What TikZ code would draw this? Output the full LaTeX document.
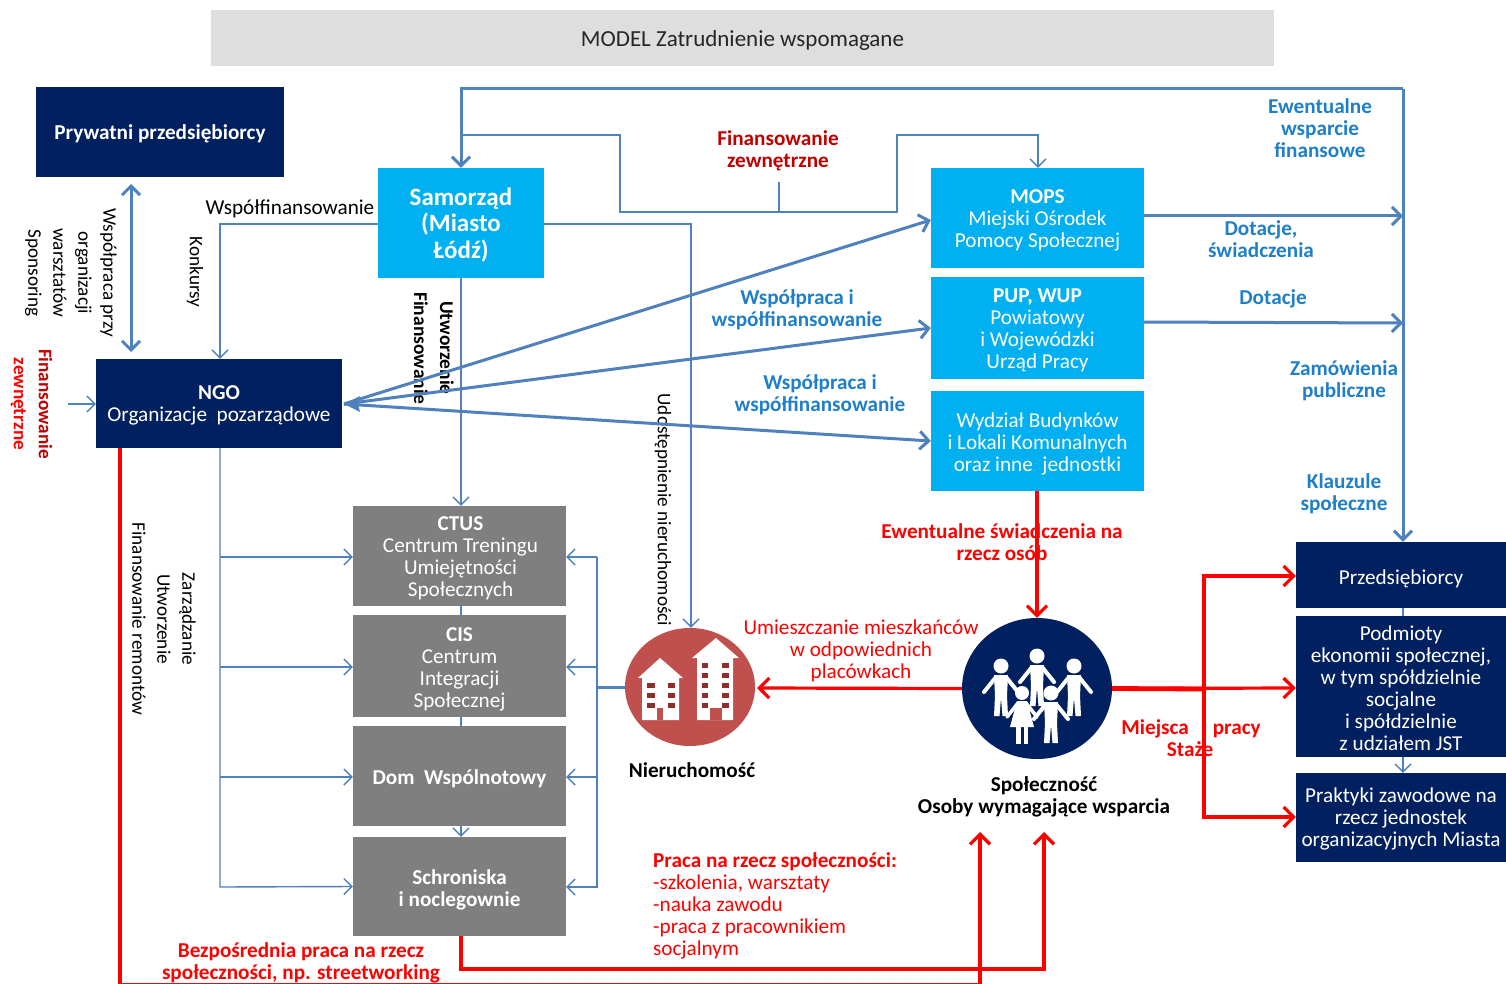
\documentclass[tikz,border=0pt]{standalone}
\usepackage{fontspec}
\setmainfont{Carlito}
\usetikzlibrary{arrows.meta,calc,shapes.geometric}
\definecolor{navy}{HTML}{002060}
\definecolor{cyanbox}{HTML}{00B0F0}
\definecolor{greybox}{HTML}{7F7F7F}
\definecolor{linkblue}{HTML}{4F81BD}
\definecolor{labblue}{HTML}{1F7FC8}
\definecolor{darkred}{HTML}{C00000}
\definecolor{brick}{HTML}{C0504D}
\definecolor{brickdk}{HTML}{8E2F2C}
\newcommand{\reg}{\fontsize{21.2}{22}\selectfont}
\newcommand{\bld}{\fontsize{21.2}{22}\selectfont\bfseries}
\newcommand{\rot}{\fontsize{19.2}{25}\selectfont}
\tikzset{
  box/.style={rectangle,inner sep=0pt},
  navybox/.style={box,fill=navy},
  cyanb/.style={box,fill=cyanbox},
  greyb/.style={box,fill=greybox},
  boxtxt/.style={inner sep=0pt,align=center,text=white,font=\reg,yshift=-2pt},
  lab/.style={inner sep=0pt,align=center,font=\reg,yshift=-2pt},
  rlab/.style={inner sep=0pt,align=center,font=\rot,rotate=-90,text=black},
  bl/.style={lab,text=labblue,font=\bld},
  rd/.style={lab,text=red,font=\bld},
  thin link/.style={draw=linkblue,line width=1.4pt,-{Straight Barb[length=8pt,width=16pt,line width=1.4pt]}},
  thin line/.style={draw=linkblue,line width=1.4pt},
  thick link/.style={draw=linkblue,line width=3pt,-{Straight Barb[length=9pt,width=18pt,line width=3pt]}},
  thick line/.style={draw=linkblue,line width=3pt},
  red link/.style={draw=red,line width=3.2pt,-{Straight Barb[length=10pt,width=20pt,line width=3.2pt]}},
  red line/.style={draw=red,line width=4.8pt},
  person/.pic={
    \fill[white] (0,0) circle (7.5);
    \fill[white] (-7,9) -- (7,9) -- (6,30) -- (7,50) -- (1.5,50) -- (0,32) -- (-1.5,50) -- (-7,50) -- (-6,30) -- cycle;
    \draw[white,line width=4pt,line cap=round] (-5,11) -- (-17,26);
    \draw[white,line width=4pt,line cap=round] (5,11) -- (17,26);
  },
  girl/.pic={
    \fill[white] (0,0) circle (7);
    \fill[white] (-5,8) -- (5,8) -- (12,34) -- (-12,34) -- cycle;
    \fill[white] (-6,33) rectangle (-1.5,51);
    \fill[white] (1.5,33) rectangle (6,51);
    \draw[white,line width=3.5pt,line cap=round] (-4,10) -- (-15,24);
    \draw[white,line width=3.5pt,line cap=round] (4,10) -- (15,24);
  }
}
\newcommand{\mkbox}[8]{% box style,name,x1,y1,x2,y2,text style,text
  \node[#1,minimum width=#5pt-#3pt,minimum height=#6pt-#4pt] (#2) at ({(#3+#5)/2},{(#4+#6)/2}) {};
  \node[boxtxt,#7] (#2-t) at (#2.center) {#8};}
\begin{document}
\begin{tikzpicture}[x=1pt,y=-1pt]
\useasboundingbox (0,0) rectangle (1506,984);
\fill[white] (0,0) rectangle (1506,984);

% boxes
\mkbox{box,fill=black!13}{title}{211}{10}{1274}{66}{text=black!85,font=\fontsize{23}{24}\selectfont}{MODEL Zatrudnienie wspomagane}
\mkbox{navybox}{pryw}{36}{87}{284}{177}{font=\bld}{Prywatni przedsiębiorcy}
\mkbox{cyanb}{sam}{378}{168}{544}{278}{font=\fontsize{25}{26.5}\selectfont\bfseries}{Samorząd\\(Miasto\\Łódź)}
\mkbox{navybox}{ngo}{96}{359}{342}{448}{}{\textbf{NGO}\\Organizacje\ \ pozarządowe}
\mkbox{cyanb}{mops}{931}{168}{1144}{268}{}{\textbf{MOPS}\\Miejski Ośrodek\\Pomocy Społecznej}
\mkbox{cyanb}{pup}{931}{277}{1144}{379}{}{\textbf{PUP, WUP}\\Powiatowy\\i Wojewódzki\\Urząd Pracy}
\mkbox{cyanb}{wydz}{931}{391}{1144}{491}{yshift=-1pt}{Wydział Budynków\\i Lokali Komunalnych\\oraz inne\ \ jednostki}
\mkbox{greyb}{ctus}{353}{506}{566}{606}{xshift=1pt}{\textbf{CTUS}\\Centrum Treningu\\Umiejętności\\Społecznych}
\mkbox{greyb}{cis}{353}{615}{566}{717}{yshift=-1pt}{\textbf{CIS}\\Centrum\\Integracji\\Społecznej}
\mkbox{greyb}{dom}{353}{726}{566}{826}{font=\bld,yshift=-1pt}{Dom\ \ Wspólnotowy}
\mkbox{greyb}{schr}{353}{837}{566}{936}{font=\bld,yshift=-1pt}{Schroniska\\i noclegownie}
\mkbox{navybox}{przed}{1296}{542}{1506}{608}{yshift=-2pt}{Przedsiębiorcy}
\mkbox{navybox}{podm}{1296}{616}{1506}{757}{}{Podmioty\\ekonomii społecznej,\\w tym spółdzielnie\\socjalne\\i spółdzielnie\\z udziałem JST}
\mkbox{navybox}{prak}{1296}{773}{1506}{862}{yshift=1pt}{Praktyki zawodowe na\\rzecz jednostek\\organizacyjnych Miasta}

% circles
\node[ellipse,fill=brick,minimum width=130pt,minimum height=118pt,inner sep=0pt] (nier) at (690,687) {};
\node[ellipse,fill=navy,minimum width=150pt,minimum height=141pt,inner sep=0pt] (spol) at (1037,688.5) {};

% building icon
\fill[white] (638,678) -- (660,658) -- (683,678) -- (679,678) -- (679,720) -- (642,720) -- (642,678) -- cycle;
\fill[white] (692,658) -- (716,638) -- (739,658) -- (733,658) -- (733,720) -- (697,720) -- (697,658) -- cycle;
\foreach \wy in {683,693,703} {
  \fill[brickdk] (647,\wy) rectangle (655,\wy+5);
  \fill[brickdk] (668,\wy) rectangle (675,\wy+5);
}
\foreach \wy in {663,673,683,693,703} {
  \fill[brickdk] (702,\wy) rectangle (708,\wy+5);
  \fill[brickdk] (722,\wy) rectangle (729,\wy+5);
}
\fill[brick] (657,708) rectangle (663,720);
\fill[brick] (710,708) rectangle (722,720);

% people icon
\pic at (1001,666) {person};
\pic at (1037,656) {person};
\pic at (1074,666) {person};
\pic at (1022,693) {girl};
\pic at (1051,693) {person};

% labels
\node[lab,text=black] (l1) at (290,207) {Współfinansowanie};
\node[lab,text=darkred,font=\bld] (l2) at (778,149) {Finansowanie\\zewnętrzne};
\node[bl] (l3) at (1320,126) {Ewentualne\\wsparcie\\finansowe};
\node[bl] (l4) at (1261,237) {Dotacje,\\świadczenia};
\node[bl] (l5) at (1273,297) {Dotacje};
\node[bl] (l6) at (797,308) {Współpraca i\\współfinansowanie};
\node[bl] (l7) at (820,393) {Współpraca i\\współfinansowanie};
\node[bl] (l8) at (1344,378.5) {Zamówienia\\publiczne};
\node[bl] (l9) at (1344,491.5) {Klauzule\\społeczne};
\node[rd] (l10) at (1002,540) {Ewentualne świadczenia na\\rzecz osób};
\node[lab,text=red] (l11) at (861,649) {Umieszczanie mieszkańców\\w odpowiednich\\placówkach};
\node[lab,text=black,font=\bld] (l12) at (692,768) {Nieruchomość};
\node[lab,text=black,font=\bld] (l13) at (1044,795) {Społeczność\\Osoby wymagające wsparcia};
\node[rd] (l14) at (1191,727) {Miejsca\ \ \ \ \ pracy};
\node[rd] (l15) at (1190,747) {Staże};
\node[lab,text=red,align=left,anchor=north west] (l16) at (653,850) {\textbf{Praca na rzecz społeczności:}\\-szkolenia, warsztaty\\-nauka zawodu\\-praca z pracownikiem\\socjalnym};
\node[rd] (l17) at (301,961) {Bezpośrednia praca na rzecz\\społeczności, np. streetworking};
\node[rlab] (l18) at (71,273) {Współpraca przy\\organizacji\\warsztatów\\Sponsoring};
\node[rlab] (l19) at (195,272) {Konkursy};
\node[rlab,font=\fontsize{19.5}{26}\selectfont\bfseries] (l20) at (434,348) {Utworzenie\\Finansowanie};
\node[rlab] (l21) at (663,510) {Udostępnienie nieruchomości};
\node[rlab] (l22) at (164,619) {Zarządzanie\\Utworzenie\\Finansowanie remontów};
\node[rlab,text=red,font=\fontsize{19.2}{25}\selectfont\bfseries] (l23) at (31.5,404) {\textcolor{darkred}{Finansowanie}\\zewnętrzne};

% free-end coordinates
\coordinate (topL) at (461,89);
\coordinate (topR) at (1403,89);
\coordinate (finA) at (461,135);
\coordinate (finB) at (620,135);
\coordinate (finC) at (620,212);
\coordinate (finD) at (897,212);
\coordinate (finE) at (897,135);
\coordinate (finF) at (1038,135);
\coordinate (finG) at (779,182);
\coordinate (finH) at (779,212);
\coordinate (extF) at (68,404);
\coordinate (busR) at (597,687);
\coordinate (busL) at (220,887);
\coordinate (ngoW) at (344,404);
\coordinate (rbus) at (1204,689);
\coordinate (bot1) at (120,985);
\coordinate (bot2) at (980,985);
\coordinate (bot3) at (461,969);
\coordinate (bot4) at (1044,969);
\coordinate (up1) at (980,832);
\coordinate (up2) at (1044,832);

% thick blue frame
\draw[thick link] (topR) -- (topL) -- (sam.north -| topL);
\draw[thick link] (topR) -- (przed.north -| topR);
\draw[draw=linkblue,line width=3pt,{Straight Barb[length=9pt,width=18pt,line width=3pt]}-{Straight Barb[length=9pt,width=18pt,line width=3pt]}] (131,184) -- (131,352);

% thin blue
\draw[thin link] (finA) -- (finB) -- (finC) -- (finD) -- (finE) -- (finF) -- (mops.north -| finF);
\draw[thin line] (finG) -- (finH);
\draw[thin link] (sam.east |- 0,224) -- (691,224) -- (nier.north -| 691,0);
\draw[thin link] (sam.west |- 0,224) -- (220,224) -- (ngo.north -| busL);
\draw[thin link] (sam.south -| topL) -- (ctus.north -| topL);
\draw[thin link] (extF) -- (ngo.west |- extF);
\draw[thin link] (ngo.south -| busL) -- (busL) -- (schr.west);
\foreach \t/\y in {ctus/557,cis/667,dom/777} {
  \draw[thin link] (220,\y) -- (\t.west |- 0,\y);
  \draw[thin link] (597,\y) -- (\t.east |- 0,\y);
}
\draw[thin link] (597,557) -- (597,887) -- (schr.east |- 0,887);
\draw[thin line] (ctus.south -| topL) -- (cis.north -| topL);
\draw[thin line] (cis.south -| topL) -- (dom.north -| topL);
\draw[thin link] (dom.south -| topL) -- (schr.north -| topL);
\draw[thin line] (przed.south -| topR) -- (podm.north -| topR);
\draw[thin link] (podm.south -| topR) -- (prak.north -| topR);
\draw[thick line] (nier.west) -- (busR);

% thick blue
\draw[thick link] (mops.east |- 0,216) -- (topR |- 0,216);
\draw[thick link] (pup.east |- 0,322) -- (topR |- 0,323);
\draw[thick link] (ngoW) -- (mops.west |- 0,220);
\draw[thick link] (ngoW) -- (pup.west |- 0,328);
\draw[thick link] (ngoW) -- (wydz.west |- 0,441);
\fill[linkblue] (ngoW) -- (360,396) -- (358,404) -- (360,412) -- cycle;

% red
\draw[red link] (wydz.south -| spol.north) -- (spol.north);
\draw[red link] (spol.west) -- (757,688);
\draw[red link] (spol.east) -- (podm.west |- 0,688);
\draw[red line] (spol.east) -- (rbus);
\draw[red link] (rbus) -- (1204,576) -- (przed.west |- 0,576);
\draw[red link] (rbus) -- (1204,817) -- (prak.west |- 0,817);
\draw[red link] (ngo.south -| bot1) -- (bot1) -- (bot2) -- (up1);
\draw[red link] (schr.south -| bot3) -- (bot3) -- (bot4) -- (up2);
\end{tikzpicture}
\end{document}
